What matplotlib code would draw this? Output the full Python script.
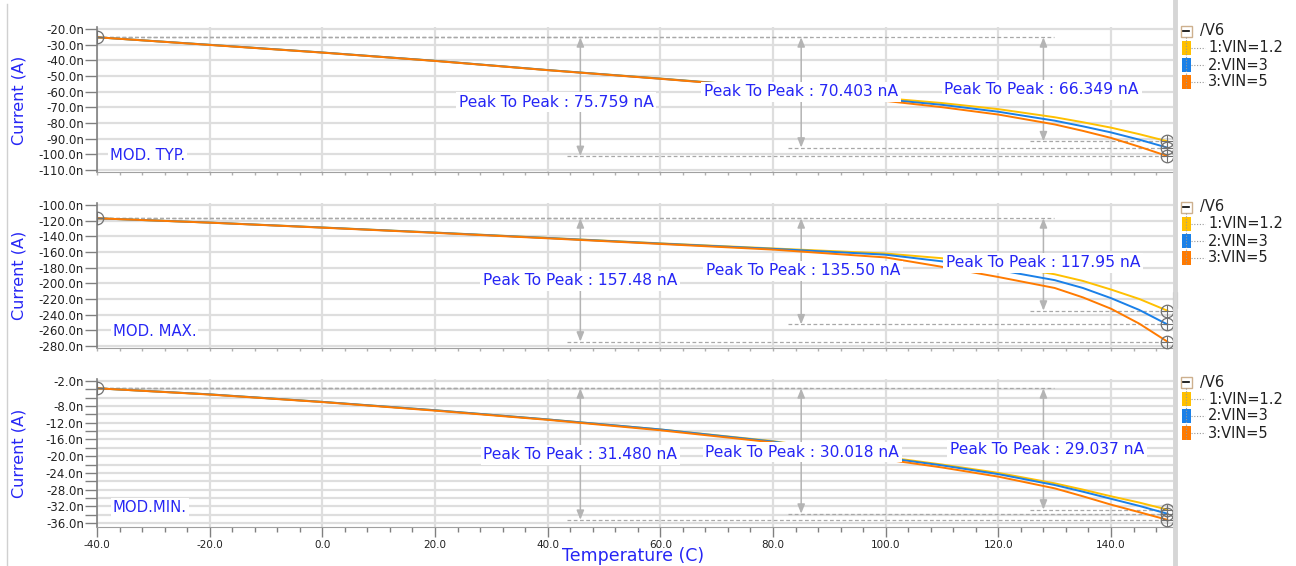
import matplotlib
matplotlib.use("Agg")
import matplotlib.pyplot as plt
from matplotlib.patches import Rectangle
from matplotlib.ticker import FixedLocator, MultipleLocator, FuncFormatter

# temperature sweep (C)
temps = [-40, -20, 0, 20, 40, 60, 80, 100, 110, 120, 130, 135, 140, 145, 150]

# MOD. TYP. current (nA)
typ_vin12 = [-25.3, -30.1, -35.0, -40.3, -46.2, -51.6, -57.3, -64.2, -67.25, -71.15, -76.3, -79.5, -82.95, -87.1, -91.65]
typ_vin3 = [-25.3, -30.1, -35.0, -40.3, -46.2, -51.7, -57.4, -65.0, -68.4, -72.8, -78.5, -82.1, -86.0, -90.6, -95.7]
typ_vin5 = [-25.3, -30.2, -35.1, -40.4, -46.3, -51.8, -57.6, -65.9, -69.9, -74.6, -80.9, -85.0, -89.5, -95.1, -101.06]

# MOD. MAX. current (nA)
max_vin12 = [-117.0, -122.5, -128.7, -135.2, -142.0, -149.0, -155.5, -162.0, -168.0, -176.5, -188.5, -197.0, -208.0, -220.0, -234.95]
max_vin3 = [-117.0, -122.5, -128.8, -135.3, -142.2, -149.3, -156.0, -163.5, -172.0, -183.0, -196.0, -206.0, -219.0, -234.0, -252.5]
max_vin5 = [-117.0, -122.6, -129.0, -135.6, -142.6, -149.8, -157.0, -167.0, -179.0, -192.0, -206.0, -218.0, -232.5, -251.5, -274.48]

# MOD.MIN. current (nA)
min_vin12 = [-3.75, -5.2, -7.0, -9.0, -11.2, -13.6, -16.4, -20.2, -22.0, -24.0, -26.5, -28.0, -29.6, -31.1, -32.79]
min_vin3 = [-3.75, -5.2, -7.0, -9.0, -11.2, -13.6, -16.5, -20.4, -22.2, -24.3, -26.9, -28.5, -30.2, -31.9, -33.77]
min_vin5 = [-3.75, -5.25, -7.05, -9.1, -11.3, -13.8, -16.7, -20.8, -22.7, -24.9, -27.7, -29.6, -31.6, -33.4, -35.23]

# peak to peak readouts (nA), order: VIN=5, VIN=3, VIN=1.2
typ_p2p = ["75.759", "70.403", "66.349"]
max_p2p = ["157.48", "135.50", "117.95"]
min_p2p = ["31.480", "30.018", "29.037"]

series_names = ["1:VIN=1.2", "2:VIN=3", "3:VIN=5"]
colors = ["#ffc000", "#1a80e8", "#ff7a00"]
text_blue = "#2626f5"
grid_c = "#dedede"
tick_c = "#808080"

W, H = 1296, 566
LEFT, RIGHT = 97, 1173

panels = [
    dict(name="MOD. TYP.", data=[typ_vin12, typ_vin3, typ_vin5], p2p=typ_p2p,
         ylim=(-111.5, -19.0), px=(27.4, 172.4),
         yticks=list(range(-20, -111, -10)), ylabels=list(range(-20, -111, -10)),
         name_pos=(-37.7, -101.0),
         lab_pos=[(41.5, -66.6), (85.0, -60.2), (127.7, -58.9)], legend_y=31),
    dict(name="MOD. MAX.", data=[max_vin12, max_vin3, max_vin5], p2p=max_p2p,
         ylim=(-282.0, -98.0), px=(203.4, 347.5),
         yticks=list(range(-100, -281, -20)), ylabels=list(range(-100, -281, -20)),
         name_pos=(-37.2, -261.0),
         lab_pos=[(45.8, -197.0), (85.4, -184.3), (128.0, -174.1)], legend_y=207),
    dict(name="MOD.MIN.", data=[min_vin12, min_vin3, min_vin5], p2p=min_p2p,
         ylim=(-37.0, -1.5), px=(378.9, 527.2),
         yticks=list(range(-2, -37, -2)), ylabels=[-2] + list(range(-8, -37, -4)),
         name_pos=(-37.2, -32.4),
         lab_pos=[(45.8, -19.7), (85.2, -19.0), (128.7, -18.5)], legend_y=382),
]
arrow_T = [45.8, 85.0, 128.0]

fig = plt.figure(figsize=(W / 100, H / 100), dpi=100)

for k, p in enumerate(panels):
    top, bot = p["px"]
    ax = fig.add_axes([LEFT / W, 1 - bot / H, (RIGHT - LEFT) / W, (bot - top) / H])
    ax.set_xlim(-40, 151)
    ax.set_ylim(*p["ylim"])
    for s in ["top", "right"]:
        ax.spines[s].set_visible(False)
    ax.spines["left"].set_color(tick_c)
    ax.spines["left"].set_linewidth(1.2)
    ax.spines["bottom"].set_color("#a0a0a0")

    ax.xaxis.set_major_locator(FixedLocator(list(range(-40, 141, 20))))
    ax.xaxis.set_minor_locator(MultipleLocator(4))
    ax.yaxis.set_major_locator(FixedLocator(p["yticks"]))
    labelled = p["ylabels"]
    ax.yaxis.set_major_formatter(FuncFormatter(
        lambda v, pos, labelled=labelled: f"{v:.1f}n" if round(v) in labelled else ""))
    ax.tick_params(axis="y", length=8.5, width=1, color=tick_c, labelsize=8.5, pad=1, labelcolor="#222222")
    ax.grid(which="major", color=grid_c, lw=1.6, zorder=0)
    ax.set_axisbelow(True)
    if k == 2:
        ax.tick_params(axis="x", which="major", length=7, width=1, color=tick_c, labelsize=7.5, pad=2, labelcolor="#222222")
        ax.tick_params(axis="x", which="minor", length=3.5, width=1, color=tick_c)
        ax.xaxis.set_major_formatter(FuncFormatter(lambda v, pos: f"{v:.1f}"))
        ax.set_xlabel("Temperature (C)", color=text_blue, fontsize=12.5)
        ax.xaxis.set_label_coords((633 - LEFT) / (RIGHT - LEFT), -29 / (bot - top))
        ax.xaxis.label.set_va("center")
    else:
        ax.tick_params(axis="x", which="both", length=2.5, width=1, color="#b0b0b0", labelbottom=False)

    ax.set_ylabel("Current (A)", color=text_blue, fontsize=11.5)
    ax.yaxis.set_label_coords((19 - LEFT) / (RIGHT - LEFT), 0.5)
    ax.yaxis.label.set_va("center")

    # curves
    for vals, c in zip(p["data"], colors):
        ax.plot(temps, vals, color=c, lw=1.4, zorder=3)

    # end point markers
    start = p["data"][2][0]
    ax.plot(temps[0], start, "o", ms=9, mfc="none", mec="#707070", mew=0.9, zorder=4)
    ax.plot(temps[0], start, "+", ms=9, mec="#707070", mew=0.8, zorder=4)
    for vals in p["data"]:
        ax.plot(temps[-1], vals[-1], "o", ms=9, mfc="none", mec="#707070", mew=0.9, zorder=4, clip_on=False)
        ax.plot(temps[-1], vals[-1], "+", ms=9, mec="#707070", mew=0.8, zorder=4, clip_on=False)

    # peak to peak markers: VIN=5, VIN=3, VIN=1.2
    for i, vals in enumerate([p["data"][2], p["data"][1], p["data"][0]]):
        aT = arrow_T[i]
        ytop, ybot = vals[0], vals[-1]
        ax.hlines(ytop, -40, aT + 1.8, colors="#a8a8a8", lw=0.9, linestyles=(0, (3, 2)), zorder=2)
        ax.hlines(ybot, aT - 2.3, 150, colors="#a8a8a8", lw=0.9, linestyles=(0, (3, 2)), zorder=2)
        ax.annotate("", xy=(aT, ybot), xytext=(aT, ytop),
                    arrowprops=dict(arrowstyle="<|-|>,head_length=0.55,head_width=0.22",
                                    color="#b4b4b4", lw=1.1, shrinkA=0, shrinkB=0), zorder=2)
        lx, ly = p["lab_pos"][i]
        ax.text(lx, ly, f"Peak To Peak : {p['p2p'][i]} nA", color=text_blue, fontsize=11.2,
                ha="center", va="center", zorder=6,
                bbox=dict(fc="white", ec="none", pad=2.0))

    nx, ny = p["name_pos"]
    ax.text(nx, ny, p["name"], color=text_blue, fontsize=10.7, ha="left", va="center", zorder=6,
            bbox=dict(fc="white", ec="none", pad=1.5))

# overlay in pixel coordinates for legend and window borders
ov = fig.add_axes([0, 0, 1, 1], facecolor="none")
ov.set_xlim(0, W)
ov.set_ylim(H, 0)
ov.axis("off")
ov.plot([7, 7], [4, H], color="#d0d0d0", lw=1)
ov.plot([1174.5, 1174.5], [0, H], color="#d6d6d6", lw=3.5)
ov.add_patch(Rectangle((1172.5, 292), 4.5, 16, fc="#c4c4c4", ec="#8c8c8c", lw=0.8))

for p in panels:
    y0 = p["legend_y"]
    ov.add_patch(Rectangle((1180.5, y0 - 5.5), 11, 11, fc="white", ec="#cdb08e", lw=1))
    ov.plot([1183, 1189], [y0, y0], color="black", lw=1.2)
    ov.text(1200, y0, "/V6", fontsize=10.5, ha="left", va="center", color="#222222")
    for j, (nm, c) in enumerate(zip(series_names, colors)):
        y = y0 + 17 * (j + 1)
        ov.add_patch(Rectangle((1182, y - 7), 8.5, 14, fc=c, ec="none"))
        ov.plot([1191, 1205], [y, y], color="#9a9a9a", lw=0.8, ls=(0, (1, 1.5)))
        ov.text(1208, y, nm, fontsize=10.5, ha="left", va="center", color="#222222")
    ov.plot([1186, 1186], [y0 + 6, y0 + 58], color="#9a9a9a", lw=0.8, ls=(0, (1, 1.5)))

fig.savefig("out.png", dpi=100)
